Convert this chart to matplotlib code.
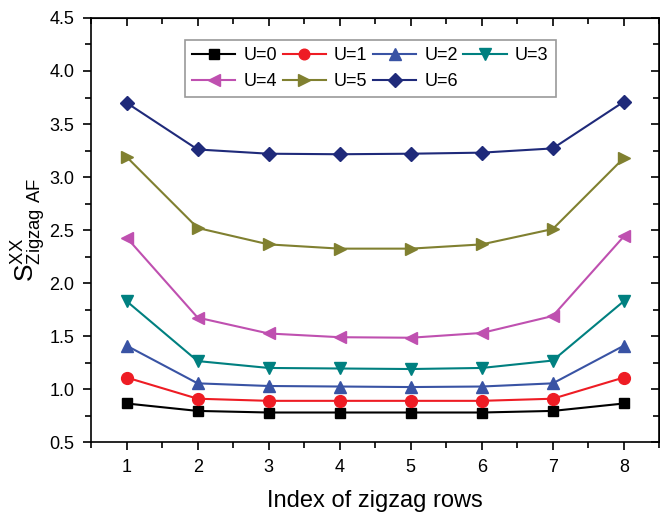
import numpy as np
import matplotlib.pyplot as plt
from matplotlib.ticker import MultipleLocator

plt.rcParams['font.family'] = ['Liberation Sans', 'DejaVu Sans']

# data
rows = [1, 2, 3, 4, 5, 6, 7, 8]
u0 = [0.865, 0.795, 0.78, 0.78, 0.78, 0.78, 0.795, 0.865]
u1 = [1.11, 0.91, 0.89, 0.89, 0.89, 0.89, 0.91, 1.11]
u2 = [1.41, 1.055, 1.03, 1.025, 1.02, 1.025, 1.055, 1.41]
u3 = [1.83, 1.265, 1.20, 1.195, 1.19, 1.20, 1.27, 1.83]
u4 = [2.43, 1.675, 1.525, 1.49, 1.485, 1.53, 1.69, 2.44]
u5 = [3.19, 2.52, 2.365, 2.325, 2.325, 2.365, 2.51, 3.18]
u6 = [3.70, 3.26, 3.22, 3.215, 3.22, 3.23, 3.27, 3.71]
labels = ['U=0', 'U=1', 'U=2', 'U=3', 'U=4', 'U=5', 'U=6']

series = [u0, u1, u2, u3, u4, u5, u6]
colors = ['#000000', '#ee1c24', '#3953a4', '#008080', '#bf50b0', '#808030', '#1f2a7a']
markers = ['s', 'o', '^', 'v', '<', '>', 'D']
msizes = [7.5, 8.5, 9, 9, 9, 9, 7.5]

fig = plt.figure(figsize=(6.6, 5.13), dpi=100)
ax = fig.add_axes([0.138, 0.138, 0.861, 0.827])

lines = []
for y, c, m, ms, lab in zip(series, colors, markers, msizes, labels):
    ln, = ax.plot(rows, y, color=c, marker=m, markersize=ms, linewidth=1.5, label=lab)
    lines.append(ln)

ax.set_xlim(0.5, 8.5)
ax.set_ylim(0.5, 4.5)
ax.xaxis.set_major_locator(MultipleLocator(1))
ax.xaxis.set_minor_locator(MultipleLocator(0.5))
ax.yaxis.set_major_locator(MultipleLocator(0.5))
ax.yaxis.set_minor_locator(MultipleLocator(0.25))
ax.yaxis.set_major_formatter(plt.FormatStrFormatter('%.1f'))

ax.tick_params(which='both', direction='out', width=1.2, labelsize=13)
ax.tick_params(which='major', length=6)
ax.tick_params(which='minor', length=4)
ax.tick_params(axis='y', pad=6)
ax.tick_params(axis='x', pad=6)
for spine in ax.spines.values():
    spine.set_linewidth(1.2)

# inward ticks on top/right
axt = ax.secondary_xaxis('top')
axt.xaxis.set_major_locator(MultipleLocator(1))
axt.xaxis.set_minor_locator(MultipleLocator(0.5))
axt.tick_params(which='both', direction='in', labeltop=False, width=1.2)
axt.tick_params(which='major', length=6)
axt.tick_params(which='minor', length=4)
axr = ax.secondary_yaxis('right')
axr.yaxis.set_major_locator(MultipleLocator(0.5))
axr.yaxis.set_minor_locator(MultipleLocator(0.25))
axr.tick_params(which='both', direction='in', labelright=False, width=1.2)
axr.tick_params(which='major', length=6)
axr.tick_params(which='minor', length=4)

ax.set_xlabel('Index of zigzag rows', fontsize=17, labelpad=10)
ax.set_ylabel(r'$\mathregular{S^{XX}_{Zigzag\ AF}}$', fontsize=19, labelpad=1)

# row-major order for a 4-column legend
order = [0, 4, 1, 5, 2, 6, 3]
leg = ax.legend([lines[i] for i in order], [labels[i] for i in order],
                ncol=4, loc='upper left', bbox_to_anchor=(0.165, 0.948), fontsize=13,
                frameon=True, fancybox=False, edgecolor='#808080', handlelength=2.4,
                handletextpad=0.45, columnspacing=0.3, labelspacing=0.5,
                borderpad=0.4, markerscale=0.9, borderaxespad=0)
leg.get_frame().set_linewidth(1.2)

fig.savefig('out.png', dpi=100)
